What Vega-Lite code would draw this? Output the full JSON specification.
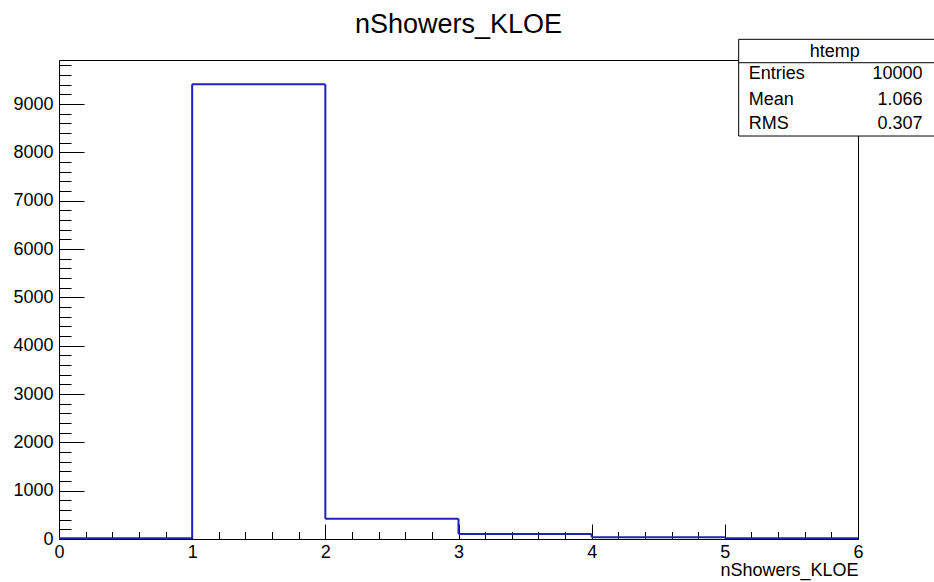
{
  "$schema": "https://vega.github.io/schema/vega-lite/v6.json",
  "width": 799,
  "height": 479,
  "autosize": {"type": "none"},
  "padding": {"left": 59, "top": 60, "right": 76, "bottom": 43},
  "background": "white",
  "config": {
    "view": {"stroke": null},
    "font": "Liberation Sans",
    "axis": {"grid": false, "labelColor": "black", "tickColor": "black", "domainColor": "black", "titleColor": "black", "labelFont": "Liberation Sans", "titleFont": "Liberation Sans"}
  },
  "title": {"text": "nShowers_KLOE", "fontSize": 27, "font": "Liberation Sans", "fontWeight": "normal", "anchor": "middle", "baseline": "alphabetic", "offset": -21, "color": "black"},
  "datasets": {
    "bins": [
      {"bin_start": 0, "bin_end": 1, "count": 15},
      {"bin_start": 1, "bin_end": 2, "count": 9410},
      {"bin_start": 2, "bin_end": 3, "count": 420},
      {"bin_start": 3, "bin_end": 4, "count": 103},
      {"bin_start": 4, "bin_end": 5, "count": 35},
      {"bin_start": 5, "bin_end": 6, "count": 17}
    ],
    "stats": [
      {"name": "htemp", "entries": 10000, "mean": 1.066, "rms": 0.307}
    ]
  },
  "data": {"name": "bins"},
  "resolve": {"axis": {"x": "independent", "y": "independent"}},
  "layer": [
    {
      "mark": {"type": "rule", "color": "#2020c0", "strokeWidth": 2},
      "encoding": {
        "x": {"field": "bin_start", "type": "quantitative", "scale": {"domain": [0, 6], "nice": false, "zero": false},
          "axis": {"orient": "bottom", "values": [0, 1, 2, 3, 4, 5, 6], "ticks": false, "domain": true, "domainWidth": 1, "labelFontSize": 18, "labelPadding": 4, "labelFlush": false, "title": "nShowers_KLOE", "titleAnchor": "end", "titleAlign": "right", "titleFontSize": 18, "titleFontWeight": "normal", "titlePadding": 0}},
        "x2": {"field": "bin_end"},
        "y": {"field": "count", "type": "quantitative", "scale": {"domain": [0, 9911], "nice": false},
          "axis": {"orient": "left", "values": [0, 1000, 2000, 3000, 4000, 5000, 6000, 7000, 8000, 9000], "format": "d", "ticks": false, "domain": true, "domainWidth": 1, "labelFontSize": 18, "labelPadding": 6, "title": null}}
      }
    },
    {
      "transform": [
        {"window": [{"op": "lag", "field": "count", "as": "prev"}], "sort": [{"field": "bin_start"}]}
      ],
      "mark": {"type": "rule", "color": "#2020c0", "strokeWidth": 2},
      "encoding": {
        "x": {"field": "bin_start", "type": "quantitative",
          "axis": {"orient": "bottom", "values": [0, 1, 2, 3, 4, 5, 6], "tickSize": -15, "labels": false, "domain": false, "title": null}},
        "y": {"field": "prev", "type": "quantitative",
          "axis": {"orient": "left", "values": [0, 1000, 2000, 3000, 4000, 5000, 6000, 7000, 8000, 9000], "tickSize": -25, "labels": false, "domain": false, "title": null}},
        "y2": {"field": "count"}
      }
    },
    {
      "data": {"name": "stats"},
      "mark": {"type": "rect", "fill": "white", "stroke": "black", "strokeWidth": 1},
      "encoding": {
        "x": {"datum": 5.104, "type": "quantitative",
          "axis": {"orient": "bottom", "values": [0, 0.2, 0.4, 0.6, 0.8, 1, 1.2, 1.4, 1.6, 1.8, 2, 2.2, 2.4, 2.6, 2.8, 3, 3.2, 3.4, 3.6, 3.8, 4, 4.2, 4.4, 4.6, 4.8, 5, 5.2, 5.4, 5.6, 5.8, 6], "tickSize": -7.5, "labels": false, "domain": false, "title": null}},
        "x2": {"datum": 6.6},
        "y": {"datum": 10339, "type": "quantitative",
          "axis": {"orient": "left", "values": [0, 200, 400, 600, 800, 1000, 1200, 1400, 1600, 1800, 2000, 2200, 2400, 2600, 2800, 3000, 3200, 3400, 3600, 3800, 4000, 4200, 4400, 4600, 4800, 5000, 5200, 5400, 5600, 5800, 6000, 6200, 6400, 6600, 6800, 7000, 7200, 7400, 7600, 7800, 8000, 8200, 8400, 8600, 8800, 9000, 9200, 9400, 9600, 9800], "tickSize": -12, "labels": false, "domain": false, "title": null}},
        "y2": {"datum": 8338}
      }
    },
    {
      "data": {"name": "stats"},
      "mark": {"type": "rule", "color": "black", "strokeWidth": 1},
      "encoding": {
        "x": {"datum": 5.104, "type": "quantitative",
          "axis": {"orient": "top", "ticks": false, "labels": false, "domain": true, "domainWidth": 1, "title": null}},
        "x2": {"datum": 6.6},
        "y": {"datum": 9855, "type": "quantitative",
          "axis": {"orient": "right", "ticks": false, "labels": false, "domain": true, "domainWidth": 1, "title": null}}
      }
    },
    {
      "data": {"name": "stats"},
      "mark": {"type": "text", "align": "center", "baseline": "middle", "fontSize": 18, "color": "black"},
      "encoding": {
        "x": {"datum": 5.825, "type": "quantitative", "axis": null},
        "y": {"datum": 10082, "type": "quantitative", "axis": null},
        "text": {"field": "name"}
      }
    },
    {
      "data": {"name": "stats"},
      "mark": {"type": "text", "align": "left", "baseline": "middle", "fontSize": 18, "color": "black", "text": "Entries"},
      "encoding": {
        "x": {"datum": 5.179, "type": "quantitative", "axis": null},
        "y": {"datum": 9614, "type": "quantitative", "axis": null}
      }
    },
    {
      "data": {"name": "stats"},
      "mark": {"type": "text", "align": "left", "baseline": "middle", "fontSize": 18, "color": "black", "text": "Mean"},
      "encoding": {
        "x": {"datum": 5.179, "type": "quantitative", "axis": null},
        "y": {"datum": 9087, "type": "quantitative", "axis": null}
      }
    },
    {
      "data": {"name": "stats"},
      "mark": {"type": "text", "align": "left", "baseline": "middle", "fontSize": 18, "color": "black", "text": "RMS"},
      "encoding": {
        "x": {"datum": 5.179, "type": "quantitative", "axis": null},
        "y": {"datum": 8580, "type": "quantitative", "axis": null}
      }
    },
    {
      "data": {"name": "stats"},
      "mark": {"type": "text", "align": "right", "baseline": "middle", "fontSize": 18, "color": "black"},
      "encoding": {
        "x": {"datum": 6.484, "type": "quantitative", "axis": null},
        "y": {"datum": 9614, "type": "quantitative", "axis": null},
        "text": {"field": "entries", "type": "quantitative", "format": "d"}
      }
    },
    {
      "data": {"name": "stats"},
      "mark": {"type": "text", "align": "right", "baseline": "middle", "fontSize": 18, "color": "black"},
      "encoding": {
        "x": {"datum": 6.484, "type": "quantitative", "axis": null},
        "y": {"datum": 9087, "type": "quantitative", "axis": null},
        "text": {"field": "mean", "type": "quantitative", "format": ".3f"}
      }
    },
    {
      "data": {"name": "stats"},
      "mark": {"type": "text", "align": "right", "baseline": "middle", "fontSize": 18, "color": "black"},
      "encoding": {
        "x": {"datum": 6.484, "type": "quantitative", "axis": null},
        "y": {"datum": 8580, "type": "quantitative", "axis": null},
        "text": {"field": "rms", "type": "quantitative", "format": ".3f"}
      }
    }
  ]
}
